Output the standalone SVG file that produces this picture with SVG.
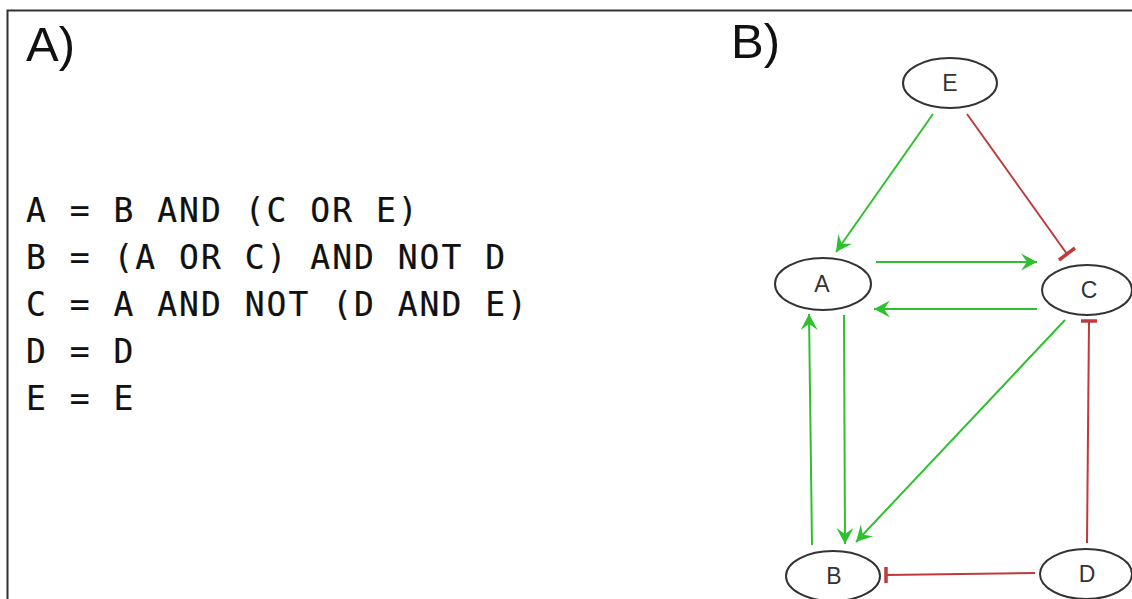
<svg xmlns="http://www.w3.org/2000/svg" width="1132" height="599" viewBox="0 0 1132 599">
<style>
.frame{stroke:#333;stroke-width:2;fill:none}
.panel{font-family:"Liberation Sans",Arial,sans-serif;font-size:49px;fill:#111}
.eq{font-family:"DejaVu Sans Mono",monospace;font-size:33px;letter-spacing:2px;fill:#111;stroke:#111;stroke-width:0.2}
.node ellipse{fill:#fff;stroke:#333;stroke-width:2}
.node text{font-family:"Liberation Sans",Arial,sans-serif;font-size:23px;fill:#333;text-anchor:middle}
.act{stroke:#2fc02f;stroke-width:2;fill:none;marker-end:url(#arr)}
.inh{stroke:#c03a3a;stroke-width:2;fill:none}
.bar{stroke:#c03a3a;stroke-width:3.5;fill:none}
</style>
<defs>
<marker id="arr" viewBox="-18 -10 20 20" refX="0" refY="0" markerWidth="20" markerHeight="20" markerUnits="userSpaceOnUse" orient="auto">
<path d="M0,0 L-16,-8.5 L-10,0 L-16,8.5 z" fill="#2fc02f"/>
</marker>
</defs>
<rect width="1132" height="599" fill="#fff"/>
<path class="frame" d="M7.5,599 V10.5 H1132"/>
<text class="panel" x="26" y="61">A)</text>
<text class="panel" x="731" y="58">B)</text>
<g id="equations">
<text class="eq" x="26" y="222">A = B AND (C OR E)</text>
<text class="eq" x="26" y="269">B = (A OR C) AND NOT D</text>
<text class="eq" x="26" y="316">C = A AND NOT (D AND E)</text>
<text class="eq" x="26" y="363">D = D</text>
<text class="eq" x="26" y="410">E = E</text>
</g>
<g id="connectors">
<line class="act" x1="933" y1="114" x2="836" y2="252"/>
<line class="inh" x1="967" y1="114" x2="1067" y2="254"/>
<line class="bar" x1="1059" y1="260" x2="1075" y2="248"/>
<line class="act" x1="876" y1="262" x2="1037" y2="262"/>
<line class="act" x1="1037" y1="309" x2="874" y2="309"/>
<line class="act" x1="812" y1="545" x2="809" y2="314"/>
<line class="act" x1="844" y1="315" x2="845" y2="544"/>
<line class="act" x1="1065" y1="320" x2="856" y2="542"/>
<line class="inh" x1="1087" y1="543" x2="1089" y2="321"/>
<line class="bar" x1="1081" y1="321" x2="1097" y2="321"/>
<line class="inh" x1="1035" y1="573" x2="886" y2="575"/>
<line class="bar" x1="886" y1="567" x2="886" y2="583"/>
</g>
<g id="node-E" class="node"><ellipse cx="950" cy="83" rx="47" ry="25"/><text x="950" y="91">E</text></g>
<g id="node-A" class="node"><ellipse cx="823" cy="284" rx="48" ry="26"/><text x="822" y="292">A</text></g>
<g id="node-C" class="node"><ellipse cx="1087" cy="290" rx="45" ry="25"/><text x="1089" y="298">C</text></g>
<g id="node-B" class="node"><ellipse cx="833" cy="576" rx="47" ry="25"/><text x="834" y="584">B</text></g>
<g id="node-D" class="node"><ellipse cx="1086" cy="574" rx="46" ry="25"/><text x="1087" y="582">D</text></g>
</svg>
